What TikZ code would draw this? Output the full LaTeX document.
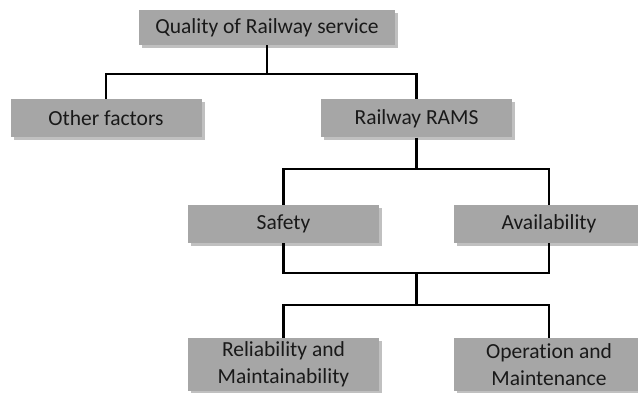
\documentclass[tikz,border=0pt]{standalone}
\usepackage{fontspec}
\setmainfont[Ligatures=NoCommon]{Carlito}
\usetikzlibrary{shadows}
\definecolor{boxgray}{RGB}{166,166,166}
\definecolor{shadowgray}{RGB}{192,192,192}
\definecolor{textdark}{RGB}{25,25,25}
\begin{document}
\begin{tikzpicture}[
    x = 1pt,
    y = -1pt,
    box/.style = {
        rectangle,
        minimum width = 191pt,
        minimum height = 38pt,
        inner sep = 0pt,
        align = center,
        fill = boxgray,
        text = textdark,
        font = \fontsize{21.5}{27}\selectfont,
        drop shadow = {shadow xshift = 3pt, shadow yshift = -3pt,
                       fill = shadowgray, opacity = 1}
    },
    tallbox/.style = {
        box,
        minimum height = 53pt
    },
    link/.style = {
        line width = 2.6pt,
        black
    }
]
    \useasboundingbox (0,0) rectangle (638,393);

    % Nodes
    \node [box, minimum width = 256pt, minimum height = 35pt] (quality) at (267,27.5) {Quality of Railway service};
    \node [box] (other) at (106,118) {Other factors};
    \node [box] (rams) at (416.5,118.5) {Railway RAMS};
    \node [box] (safety) at (283.5,224) {Safety};
    \node [box] (avail) at (549,224) {Availability};
    \node [tallbox] (relmain) at (283.5,364.5) {Reliability and\\Maintainability};
    \node [tallbox] (opmain) at (549,364.5) {Operation and\\Maintenance};

    % Junctions
    \coordinate (j1) at (267,74);
    \coordinate (j2) at (416.5,169);
    \coordinate (j3) at (416.5,273);
    \coordinate (j4) at (416.5,305);

    % Lines
    \draw [link] (quality.south) -- (j1);
    \draw [link] (other.north) |- (j1) -| (rams.north);
    \draw [link] (rams.south) -- (j2);
    \draw [link] (safety.north) |- (j2) -| (avail.north);
    \draw [link] (safety.south) |- (j3) -| (avail.south);
    \draw [link] (j3) -- (j4);
    \draw [link] (relmain.north) |- (j4) -| (opmain.north);

\end{tikzpicture}
\end{document}
